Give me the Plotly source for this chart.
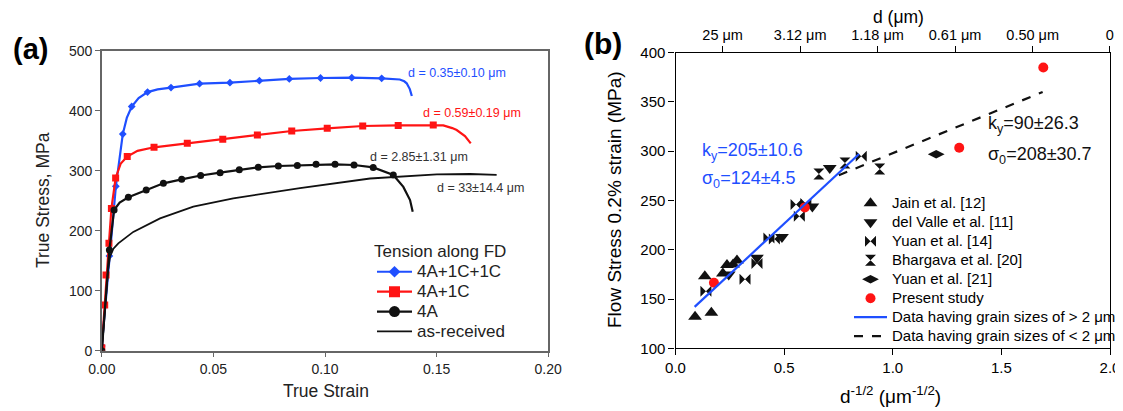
import plotly.graph_objects as go

# ---------------- Panel (a) data: true stress-strain curves ----------------
blue_mark_strain = [0, 0.0034, 0.0063, 0.0094, 0.0134, 0.0205, 0.031, 0.0438, 0.0574, 0.0706, 0.084, 0.098, 0.112, 0.1254]
blue_mark_stress = [8, 158, 274, 361, 407, 431, 438.5, 445, 446.7, 450, 453, 454.5, 455, 454]
blue_extra_strain = [0.0112, 0.0165, 0.025, 0.1335, 0.1355, 0.1366, 0.138, 0.1389]
blue_extra_stress = [388, 421, 435.5, 452, 449, 445.7, 436, 424.5]

red_mark_strain = [0, 0.0013, 0.0019, 0.0032, 0.0043, 0.0062, 0.0114, 0.0234, 0.0383, 0.0542, 0.0697, 0.0851, 0.101, 0.1169, 0.1328, 0.1485]
red_mark_stress = [5, 76, 126, 179, 237, 288, 323.5, 339, 345.6, 352.3, 359.5, 366.2, 370.6, 374.5, 375.5, 376.2]
red_extra_strain = [0.0085, 0.016, 0.153, 0.157, 0.159, 0.1627, 0.1653]
red_extra_stress = [312, 333, 375.5, 371, 367.8, 357.8, 345.6]

blk_mark_strain = [0, 0.0034, 0.0055, 0.0119, 0.0199, 0.0276, 0.0358, 0.0443, 0.053, 0.0616, 0.0701, 0.0791, 0.0876, 0.096, 0.1045, 0.113, 0.1216, 0.1306]
blk_mark_stress = [0, 168, 234.5, 255.6, 268, 279, 285.6, 292, 296.7, 301.5, 305.6, 307.8, 308.6, 310.6, 310.6, 309.5, 305.5, 292.8]
blk_extra_strain = [0.008, 0.1351, 0.1381, 0.1393]
blk_extra_stress = [247, 273, 251, 231.7]

asr_strain = [0, 0.0015, 0.0028, 0.0037, 0.0052, 0.0074, 0.0141, 0.0261, 0.041, 0.0589, 0.0888, 0.1202, 0.135, 0.1501, 0.165, 0.1769]
asr_stress = [0, 70, 135, 157, 170, 179, 198, 220.6, 240, 254, 271, 287, 291, 294, 294.5, 293]

curve_names = ["4A+1C+1C", "4A+1C", "4A", "as-received"]
grain_labels_a = ["d = 0.35±0.10 μm", "d = 0.59±0.19 μm", "d = 2.85±1.31 μm", "d = 33±14.4 μm"]
grain_label_x = [0.1362, 0.1429, 0.1192, 0.1493]
grain_label_y = [462, 396, 323, 272]

# ---------------- Panel (b) data: Hall-Petch ----------------
jain_x = [0.09, 0.135, 0.165, 0.218, 0.237, 0.265, 0.283]
jain_y = [132, 173, 136, 176, 184.5, 185, 189]
valle_x = [0.245, 0.375, 0.49, 0.63, 0.71]
valle_y = [175, 192, 213, 244, 283]
yuan14_x = [0.14, 0.32, 0.375, 0.43, 0.455, 0.555, 0.57, 0.6, 0.855]
yuan14_y = [158, 170, 186, 212, 211, 246, 234, 247, 295]
bharg_x = [0.66, 0.78, 0.94]
bharg_y = [277, 288, 282]
yuan21_x = [1.2]
yuan21_y = [297]
present_x = [0.177, 0.595, 1.306, 1.693]
present_y = [166.5, 243, 303.6, 385]

fit_coarse = dict(k=205, s0=124, x=[0.088, 0.845])
fit_fine = dict(k=90, s0=208, x=[0.752, 1.69])

top_tick_pos = [0.217, 0.574, 0.930, 1.287, 1.644, 1.9995]
top_tick_labels = ["25 μm", "3.12 μm", "1.18 μm", "0.61 μm", "0.50 μm", "0"]

series_b_names = ["Jain et al. [12]", "del Valle et al. [11]", "Yuan et al. [14]",
                  "Bhargava et al. [20]", "Yuan et al. [21]", "Present study",
                  "Data having grain sizes of > 2 μm", "Data having grain sizes of < 2 μm"]

FONT = "Arial, Liberation Sans, sans-serif"
BLUE = "#1f4fff"
RED = "#ff1414"
BLACK = "#111111"

# page body has an 8px margin: size the figure so it ends at the window edge
OFF = 8
W, H = 1123 - OFF, 411 - OFF


def px(x):
    return (x - OFF) / W


def py(y):
    return 1 - (y - OFF) / H


def merged(xs1, ys1, xs2, ys2):
    pts = sorted(zip(list(xs1) + list(xs2), list(ys1) + list(ys2)))
    return [p[0] for p in pts], [p[1] for p in pts]


def big(text, size):
    return f'<span style="font-size:{size}px">{text}</span>'


fig = go.Figure()

# ---- panel (a) curves ----
series_a = [
    (blue_mark_strain, blue_mark_stress, blue_extra_strain, blue_extra_stress, BLUE, "diamond", 6),
    (red_mark_strain, red_mark_stress, red_extra_strain, red_extra_stress, RED, "square", 7),
    (blk_mark_strain, blk_mark_stress, blk_extra_strain, blk_extra_stress, BLACK, "circle", 7),
]
legend_sizes = [9, 11, 11]
for i, (mx, my, ex, ey, col, sym, ms) in enumerate(series_a):
    lx, ly = merged(mx, my, ex, ey)
    fig.add_trace(go.Scatter(x=lx, y=ly, mode="lines", line=dict(color=col, width=2.2),
                             showlegend=False, hoverinfo="skip", xaxis="x", yaxis="y"))
    fig.add_trace(go.Scatter(x=mx, y=my, mode="markers",
                             marker=dict(color=col, symbol=sym, size=ms),
                             showlegend=False, xaxis="x", yaxis="y"))
    fig.add_trace(go.Scatter(x=[None], y=[None], mode="lines+markers",
                             line=dict(color=col, width=2.2),
                             marker=dict(color=col, symbol=sym, size=legend_sizes[i]),
                             name=big(curve_names[i], 17), legend="legend",
                             xaxis="x", yaxis="y"))
fig.add_trace(go.Scatter(x=asr_strain, y=asr_stress, mode="lines",
                         line=dict(color=BLACK, width=1.8),
                         name=big(curve_names[3], 17), legend="legend",
                         xaxis="x", yaxis="y"))

# ---- panel (b) scatter ----
scat = [
    (jain_x, jain_y, "triangle-up", BLACK, 12),
    (valle_x, valle_y, "triangle-down", BLACK, 12),
    (yuan14_x, yuan14_y, "bowtie", BLACK, 11),
    (bharg_x, bharg_y, "hourglass", BLACK, 11),
    (yuan21_x, yuan21_y, "diamond-wide", BLACK, 12),
    (present_x, present_y, "circle", RED, 10),
]
for i, (xs, ys, sym, col, ms) in enumerate(scat):
    fig.add_trace(go.Scatter(x=xs, y=ys, mode="markers",
                             marker=dict(symbol=sym, color=col, size=ms, line=dict(width=0)),
                             name=big(series_b_names[i], 15), legend="legend2",
                             xaxis="x2", yaxis="y2"))

fx = fit_coarse["x"]
fig.add_trace(go.Scatter(x=fx, y=[fit_coarse["s0"] + fit_coarse["k"] * v for v in fx],
                         mode="lines", line=dict(color=BLUE, width=2.2),
                         name=big(series_b_names[6], 15), legend="legend2",
                         xaxis="x2", yaxis="y2"))
fx = fit_fine["x"]
fig.add_trace(go.Scatter(x=fx, y=[fit_fine["s0"] + fit_fine["k"] * v for v in fx],
                         mode="lines", line=dict(color=BLACK, width=2.2, dash="dash"),
                         name=big(series_b_names[7], 15), legend="legend2",
                         xaxis="x2", yaxis="y2"))
# dummy trace to carry the top axis
fig.add_trace(go.Scatter(x=[None], y=[None], showlegend=False, xaxis="x3", yaxis="y2"))

ann = []
for t, xx, yy, col in zip(grain_labels_a, grain_label_x, grain_label_y, [BLUE, RED, "#333", "#333"]):
    ann.append(dict(x=xx, y=yy, xref="x", yref="y", text=t, showarrow=False,
                    xanchor="left", yanchor="middle", font=dict(size=12.5, color=col, family=FONT)))

ann += [
    dict(x=0.115, y=300, xref="x2", yref="y2", text="k<sub>y</sub>=205±10.6", showarrow=False,
         xanchor="left", yanchor="middle", font=dict(size=18, color=BLUE, family=FONT)),
    dict(x=0.115, y=271, xref="x2", yref="y2", text="σ<sub>0</sub>=124±4.5", showarrow=False,
         xanchor="left", yanchor="middle", font=dict(size=18, color=BLUE, family=FONT)),
    dict(x=1.429, y=327, xref="x2", yref="y2", text="k<sub>y</sub>=90±26.3", showarrow=False,
         xanchor="left", yanchor="middle", font=dict(size=18, color=BLACK, family=FONT)),
    dict(x=1.429, y=296, xref="x2", yref="y2", text="σ<sub>0</sub>=208±30.7", showarrow=False,
         xanchor="left", yanchor="middle", font=dict(size=18, color=BLACK, family=FONT)),
    # panel labels
    dict(x=px(30), y=py(49), xref="paper", yref="paper", text="<b>(a)</b>", showarrow=False,
         xanchor="center", yanchor="middle", font=dict(size=29, color="black", family=FONT)),
    dict(x=px(603), y=py(44), xref="paper", yref="paper", text="<b>(b)</b>", showarrow=False,
         xanchor="center", yanchor="middle", font=dict(size=30, color="black", family=FONT)),
    # axis titles
    dict(x=px(43), y=py(200), xref="paper", yref="paper", text="True Stress, MPa", showarrow=False,
         textangle=-90, xanchor="center", yanchor="middle", font=dict(size=17.5, color="#222", family=FONT)),
    dict(x=px(326), y=py(391), xref="paper", yref="paper", text="True Strain", showarrow=False,
         xanchor="center", yanchor="middle", font=dict(size=17.5, color="#222", family=FONT)),
    dict(x=px(614), y=py(200), xref="paper", yref="paper", text="Flow Stress 0.2% strain (MPa)",
         showarrow=False, textangle=-90, xanchor="center", yanchor="middle",
         font=dict(size=19, color="black", family=FONT)),
    dict(x=px(890), y=py(395), xref="paper", yref="paper",
         text="d<sup>-1/2</sup> (μm<sup>-1/2</sup>)", showarrow=False,
         xanchor="center", yanchor="middle", font=dict(size=19, color="black", family=FONT)),
    dict(x=px(898), y=py(17), xref="paper", yref="paper", text="d (μm)", showarrow=False,
         xanchor="center", yanchor="middle", font=dict(size=17.5, color="black", family=FONT)),
]

axa = dict(showgrid=False, zeroline=False, showline=True, linecolor="#666", linewidth=1.5,
           mirror=True, ticks="outside", ticklen=5, tickcolor="#666", automargin=False,
           tickfont=dict(size=14, color="#222", family=FONT))
axb = dict(showgrid=False, zeroline=False, showline=True, linecolor="black", linewidth=1.2,
           mirror=True, ticks="outside", ticklen=6, tickcolor="black", automargin=False,
           tickfont=dict(size=15, color="black", family=FONT))

fig.update_layout(
    template="none",
    width=W, height=H, margin=dict(l=0, r=0, t=0, b=0, autoexpand=False),
    paper_bgcolor="white", plot_bgcolor="white",
    font=dict(family=FONT),
    xaxis=dict(domain=[px(101.8), px(548.2)], range=[0, 0.2], dtick=0.05, tickformat=".2f",
               anchor="y", **axa),
    yaxis=dict(domain=[py(350.7), py(50.7)], range=[0, 500], dtick=100, anchor="x", **axa),
    xaxis2=dict(domain=[px(675.5), px(1110)], range=[0, 2], dtick=0.5, tickformat=".1f",
                anchor="y2", **axb),
    yaxis2=dict(domain=[py(348.3), py(52.7)], range=[100, 400], dtick=50, anchor="x2", **axb),
    xaxis3=dict(overlaying="x2", side="top", anchor="y2", range=[0, 2], tickvals=top_tick_pos,
                ticktext=top_tick_labels, showgrid=False, zeroline=False, showline=False,
                ticks="outside", ticklen=6, tickcolor="black", automargin=False,
                tickfont=dict(size=14.5, color="black", family=FONT)),
    legend=dict(x=px(372), y=py(234.7), xanchor="left", yanchor="top",
                bgcolor="rgba(0,0,0,0)", itemwidth=35, font=dict(size=13, color="#222", family=FONT),
                title=dict(text="Tension along FD", font=dict(size=17, color="#222", family=FONT)),
                tracegroupgap=0),
    legend2=dict(x=px(849), y=py(188.7), xanchor="left", yanchor="top",
                 bgcolor="rgba(0,0,0,0)", itemwidth=33, font=dict(size=12, color="black", family=FONT),
                 tracegroupgap=0),
    annotations=ann,
)

fig.write_html("out.html")
